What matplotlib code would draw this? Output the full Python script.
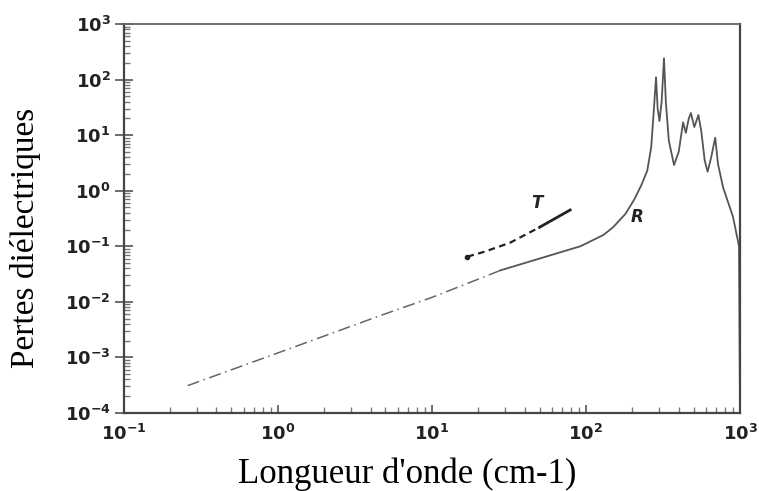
import matplotlib.pyplot as plt

# R curve (reflection)
r_x = [0.26, 1.0, 4.5, 10, 28, 60, 92, 130, 150, 180, 205, 230, 250, 265, 275,
       285, 292, 300, 310, 321, 330, 345, 373, 400, 427, 445, 465, 480, 505,
       537, 560, 590, 616, 650, 690, 720, 776, 900, 985, 1000]
r_y = [3.1e-4, 1.2e-3, 5.5e-3, 1.2e-2, 0.037, 0.07, 0.1, 0.16, 0.22, 0.38, 0.68,
       1.3, 2.3, 6, 25, 110, 30, 18, 40, 243, 40, 8, 2.9, 5, 17, 11, 20, 25, 14,
       23, 12, 3.5, 2.2, 4, 9, 3, 1.15, 0.34, 0.1, 1e-4]

# T curve (transmission)
t_x = [17, 22, 32, 50, 79]
t_y = [0.065, 0.08, 0.115, 0.22, 0.45]

fig = plt.figure(figsize=(7.59, 4.91), dpi=100)
ax = fig.add_axes([0.163, 0.159, 0.812, 0.792])

n_low = 5  # dash-dot section at low wavenumber
ax.plot(r_x[:n_low], r_y[:n_low], color="#666666", lw=1.1, ls=(0, (8, 3, 1, 3)))
ax.plot(r_x[n_low - 1:], r_y[n_low - 1:], color="#555555", lw=1.3)

ax.plot(t_x[:4], t_y[:4], color="#222222", lw=1.6, ls=(0, (3, 2)))
ax.plot(t_x[3:], t_y[3:], color="#222222", lw=2.0)
ax.plot(t_x[0], t_y[0], "o", color="#222222", ms=3)

ax.text(48, 0.42, "T", fontsize=12, fontstyle="italic", fontweight="bold",
        color="#222222", ha="center", va="bottom")
ax.text(215, 0.34, "R", fontsize=12, fontstyle="italic", fontweight="bold",
        color="#222222", ha="center", va="center")

ax.set_xscale("log")
ax.set_yscale("log")
ax.set_xlim(0.1, 1000)
ax.set_ylim(1e-4, 1e3)

for side in ["left", "bottom", "right"]:
    ax.spines[side].set_color("#444444")
    ax.spines[side].set_linewidth(1.6)
ax.spines["top"].set_color("#666666")
ax.spines["top"].set_linewidth(1.3)

ax.tick_params(which="major", direction="inout", length=13, width=1.2,
               color="#555555", labelsize=13, labelcolor="#222222", pad=3)
ax.tick_params(which="minor", direction="in", length=4, width=1.0, color="#777777")
ax.tick_params(top=False, right=False, which="both")
ax.tick_params(axis="x", which="major", direction="in", length=6, pad=8)
for lab in ax.get_xticklabels() + ax.get_yticklabels():
    lab.set_fontweight("bold")

ax.set_xlabel("Longueur d'onde (cm-1)", family="Liberation Serif", fontsize=25,
              labelpad=8)
ax.xaxis.set_label_coords(0.46, -0.115)
ax.set_ylabel("Pertes diélectriques", family="Liberation Serif", fontsize=24)
ax.yaxis.set_label_coords(-0.135, 0.45)

fig.savefig("out.png", dpi=100)
